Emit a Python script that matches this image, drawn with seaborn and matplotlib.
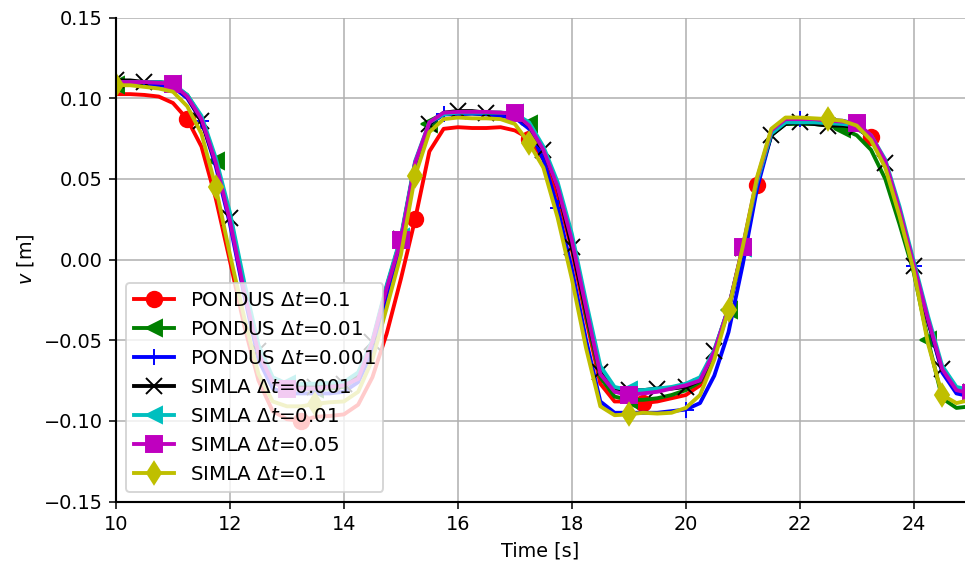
import matplotlib
matplotlib.use("Agg")
import matplotlib.pyplot as plt
import pandas as pd
import seaborn as sns

# Tempo de simulação (s)
time_s = [
    10.00, 10.25, 10.50, 10.75, 11.00, 11.25, 11.50, 11.75,
    12.00, 12.25, 12.50, 12.75, 13.00, 13.25, 13.50, 13.75,
    14.00, 14.25, 14.50, 14.75, 15.00, 15.25, 15.50, 15.75,
    16.00, 16.25, 16.50, 16.75, 17.00, 17.25, 17.50, 17.75,
    18.00, 18.25, 18.50, 18.75, 19.00, 19.25, 19.50, 19.75,
    20.00, 20.25, 20.50, 20.75, 21.00, 21.25, 21.50, 21.75,
    22.00, 22.25, 22.50, 22.75, 23.00, 23.25, 23.50, 23.75,
    24.00, 24.25, 24.50, 24.75, 25.00,
]

pondus_dt_0_1 = [
    0.1025, 0.1025, 0.102, 0.101, 0.097, 0.087, 0.070, 0.038,
    -0.001, -0.041, -0.075, -0.094, -0.099, -0.100, -0.0975, -0.097,
    -0.096, -0.090, -0.073, -0.046, -0.012, 0.025, 0.067, 0.081,
    0.082, 0.0815, 0.0815, 0.082, 0.080, 0.075, 0.062, 0.040,
    0.006, -0.037, -0.077, -0.088, -0.088, -0.089, -0.088, -0.086,
    -0.084, -0.078, -0.059, -0.031, 0.007, 0.046, 0.078, 0.085,
    0.086, 0.086, 0.085, 0.084, 0.081, 0.076, 0.060, 0.031,
    -0.003, -0.037, -0.069, -0.081, -0.083,
]

pondus_dt_0_01 = [
    0.108, 0.109, 0.109, 0.109, 0.108, 0.102, 0.088, 0.061,
    0.027, -0.017, -0.057, -0.076, -0.080, -0.080, -0.080, -0.080,
    -0.079, -0.073, -0.053, -0.019, 0.012, 0.059, 0.084, 0.090,
    0.0905, 0.0905, 0.090, 0.089, 0.088, 0.084, 0.068, 0.046,
    0.012, -0.034, -0.073, -0.085, -0.087, -0.087, -0.086, -0.084,
    -0.081, -0.076, -0.058, -0.031, 0.006, 0.047, 0.077, 0.084,
    0.084, 0.084, 0.083, 0.081, 0.077, 0.068, 0.050, 0.022,
    -0.008, -0.050, -0.086, -0.092, -0.091,
]

pondus_dt_0_001 = [
    0.109, 0.109, 0.109, 0.108, 0.107, 0.100, 0.086, 0.058,
    0.022, -0.022, -0.062, -0.080, -0.083, -0.083, -0.083, -0.083,
    -0.082, -0.076, -0.057, -0.022, 0.010, 0.058, 0.084, 0.090,
    0.090, 0.0905, 0.090, 0.089, 0.088, 0.081, 0.062, 0.032,
    -0.006, -0.050, -0.088, -0.095, -0.095, -0.095, -0.095, -0.094,
    -0.093, -0.089, -0.072, -0.045, -0.003, 0.044, 0.077, 0.086,
    0.087, 0.087, 0.0865, 0.086, 0.084, 0.076, 0.060, 0.030,
    -0.004, -0.038, -0.070, -0.083, -0.085,
]

simla_dt_0_001 = [
    0.111, 0.111, 0.110, 0.110, 0.109, 0.101, 0.086, 0.060,
    0.026, -0.018, -0.057, -0.075, -0.079, -0.079, -0.079, -0.078,
    -0.077, -0.071, -0.051, -0.017, 0.013, 0.060, 0.084, 0.091,
    0.092, 0.092, 0.091, 0.091, 0.090, 0.083, 0.068, 0.045,
    0.008, -0.032, -0.070, -0.080, -0.081, -0.081, -0.080, -0.080,
    -0.079, -0.075, -0.057, -0.030, 0.007, 0.049, 0.077, 0.084,
    0.085, 0.084, 0.083, 0.083, 0.082, 0.075, 0.060, 0.030,
    -0.004, -0.038, -0.068, -0.080, -0.082,
]

simla_dt_0_01 = [
    0.110, 0.110, 0.110, 0.110, 0.109, 0.102, 0.089, 0.063,
    0.029, -0.014, -0.053, -0.073, -0.077, -0.077, -0.077, -0.0765,
    -0.076, -0.070, -0.050, -0.016, 0.014, 0.061, 0.085, 0.090,
    0.091, 0.091, 0.091, 0.091, 0.0905, 0.085, 0.070, 0.048,
    0.016, -0.026, -0.066, -0.079, -0.081, -0.081, -0.080, -0.079,
    -0.077, -0.073, -0.056, -0.030, 0.007, 0.048, 0.078, 0.085,
    0.085, 0.085, 0.0845, 0.084, 0.083, 0.077, 0.062, 0.033,
    -0.001, -0.035, -0.066, -0.079, -0.081,
]

simla_dt_0_05 = [
    0.110, 0.110, 0.110, 0.1095, 0.109, 0.101, 0.087, 0.060,
    0.024, -0.020, -0.058, -0.076, -0.080, -0.080, -0.080, -0.079,
    -0.078, -0.074, -0.051, -0.018, 0.012, 0.060, 0.085, 0.091,
    0.0915, 0.0915, 0.0915, 0.091, 0.0905, 0.083, 0.068, 0.045,
    0.012, -0.030, -0.071, -0.082, -0.084, -0.083, -0.082, -0.080,
    -0.078, -0.075, -0.057, -0.030, 0.008, 0.050, 0.080, 0.087,
    0.087, 0.087, 0.086, 0.0855, 0.0845, 0.077, 0.061, 0.031,
    -0.003, -0.037, -0.068, -0.081, -0.083,
]

simla_dt_0_1 = [
    0.108, 0.108, 0.107, 0.106, 0.104, 0.095, 0.078, 0.045,
    0.003, -0.036, -0.071, -0.088, -0.091, -0.091, -0.0895, -0.0885,
    -0.088, -0.082, -0.062, -0.030, 0.003, 0.052, 0.079, 0.087,
    0.088, 0.0875, 0.0875, 0.087, 0.084, 0.072, 0.057, 0.026,
    -0.012, -0.055, -0.091, -0.0965, -0.096, -0.095, -0.0955, -0.095,
    -0.092, -0.084, -0.062, -0.031, 0.008, 0.051, 0.081, 0.088,
    0.088, 0.0875, 0.087, 0.086, 0.083, 0.074, 0.057, 0.027,
    -0.007, -0.052, -0.084, -0.089, -0.087,
]


def setup_plot_style():
    plt.rcParams.update({
        'font.family': ['DejaVu Sans'],
        'font.size': 10,
        'legend.fontsize': 10.3,
        'lines.linewidth': 2,
        'lines.markersize': 8,
        'axes.linewidth': 1.1,
    })


def main():
    setup_plot_style()
    dpi = 139
    fig = plt.figure(figsize=(965 / dpi, 564 / dpi), dpi=dpi)
    ax = fig.add_axes([116 / 965, 1 - 501.5 / 564, 849 / 965, 484 / 564])

    series = [
        (r'PONDUS $\Delta t$=0.1', pondus_dt_0_1, 'r', 'o', (5, 8)),
        (r'PONDUS $\Delta t$=0.01', pondus_dt_0_01, 'g', '<', [0, 7, 14, 22, 29, 36, 43, 51, 57]),
        (r'PONDUS $\Delta t$=0.001', pondus_dt_0_001, 'b', '+', [6, 14, 23, 31, 40, 48, 56]),
        (r'SIMLA $\Delta t$=0.001', simla_dt_0_001, 'k', 'x', 2),
        (r'SIMLA $\Delta t$=0.01', simla_dt_0_01, 'c', '<', (4, 8)),
        (r'SIMLA $\Delta t$=0.05', simla_dt_0_05, 'm', 's', (4, 8)),
        (r'SIMLA $\Delta t$=0.1', simla_dt_0_1, 'y', 'd', [0, 7, 14, 21, 29, 36, 43, 50, 58]),
    ]

    for label, values, color, marker, every in series:
        df = pd.DataFrame({'Time': time_s, 'v': values})
        sns.lineplot(data=df, x='Time', y='v', ax=ax, color=color, marker=marker,
                     markevery=every, markeredgecolor=color, markerfacecolor=color,
                     markeredgewidth=1.0, linewidth=2, errorbar=None, label=label,
                     legend=False)

    ax.set_xlim(10, 24.9)
    ax.set_ylim(-0.15, 0.15)
    ax.set_xticks([10, 12, 14, 16, 18, 20, 22, 24])
    ax.set_yticks([-0.15, -0.10, -0.05, 0.00, 0.05, 0.10, 0.15])
    ax.grid(True, color='#b0b0b0', linewidth=0.8)
    ax.set_xlabel('Time [s]')
    ax.set_ylabel('$v$ [m]')
    sns.despine(ax=ax)
    ax.legend(loc='lower left')

    fig.savefig('out.png', dpi=dpi)
    plt.close(fig)


if __name__ == "__main__":
    main()
